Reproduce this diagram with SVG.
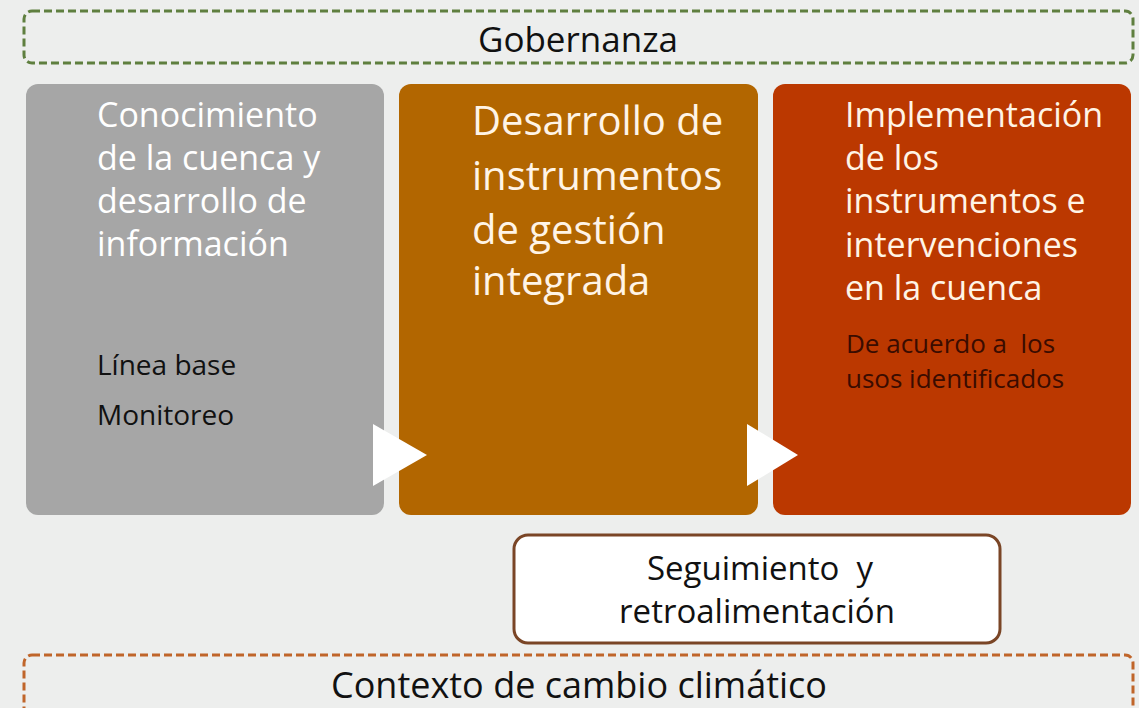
<svg xmlns="http://www.w3.org/2000/svg" width="1139" height="708" viewBox="0 0 1139 708">
<style>
text{font-family:"Open Sans","Liberation Sans",sans-serif}
.w{fill:#ffffff}
.cream{fill:#fff4e6}
.blk{fill:#111111}
</style>
<rect width="1139" height="708" fill="#edeeed"/>
<g id="gobernanza">
<rect x="24" y="11" width="1109" height="52" rx="8" fill="none" stroke="#5f7f3f" stroke-width="3" stroke-dasharray="8 4"/>
<text x="578" y="52" font-size="35" text-anchor="middle" class="blk">Gobernanza</text>
</g>
<g id="conocimiento">
<rect x="26" y="84" width="358" height="431" rx="12" fill="#a6a6a6"/>
<text font-size="34" class="w"><tspan x="97" y="127">Conocimiento</tspan><tspan x="97" y="170">de la cuenca y</tspan><tspan x="97" y="213">desarrollo de</tspan><tspan x="97" y="256">información</tspan></text>
<text font-size="28" class="blk"><tspan x="97" y="375">Línea base</tspan><tspan x="97" y="425">Monitoreo</tspan></text>
</g>
<g id="desarrollo">
<rect x="399" y="84" width="359" height="431" rx="12" fill="#b26600"/>
<text font-size="40" class="cream"><tspan x="472" y="135">Desarrollo de</tspan><tspan x="472" y="190">instrumentos</tspan><tspan x="472" y="244">de gestión</tspan><tspan x="472" y="295">integrada</tspan></text>
</g>
<g id="implementacion">
<rect x="773" y="84" width="358" height="431" rx="12" fill="#bb3800"/>
<text font-size="34" class="cream"><tspan x="845" y="127">Implementación</tspan><tspan x="845" y="170">de los</tspan><tspan x="845" y="213">instrumentos e</tspan><tspan x="845" y="257">intervenciones</tspan><tspan x="845" y="300">en la cuenca</tspan></text>
<text font-size="26" fill="#3a0c00" xml:space="preserve"><tspan x="846" y="353">De acuerdo a  los</tspan><tspan x="846" y="388">usos identificados</tspan></text>
</g>
<g id="connectors">
<polygon points="373,424 427,455 373,486" fill="#ffffff"/>
<polygon points="747,424 798,455 747,486" fill="#ffffff"/>
</g>
<g id="seguimiento">
<rect x="514" y="535" width="486" height="108" rx="14" fill="#ffffff" stroke="#7a4526" stroke-width="3"/>
<text font-size="33" text-anchor="middle" class="blk" xml:space="preserve"><tspan x="760" y="580">Seguimiento  y</tspan><tspan x="757" y="623">retroalimentación</tspan></text>
</g>
<g id="contexto">
<rect x="24" y="655" width="1109" height="70" rx="8" fill="none" stroke="#c0652a" stroke-width="3" stroke-dasharray="8 4"/>
<text x="579" y="698" font-size="36" text-anchor="middle" class="blk">Contexto de cambio climático</text>
</g>
</svg>
